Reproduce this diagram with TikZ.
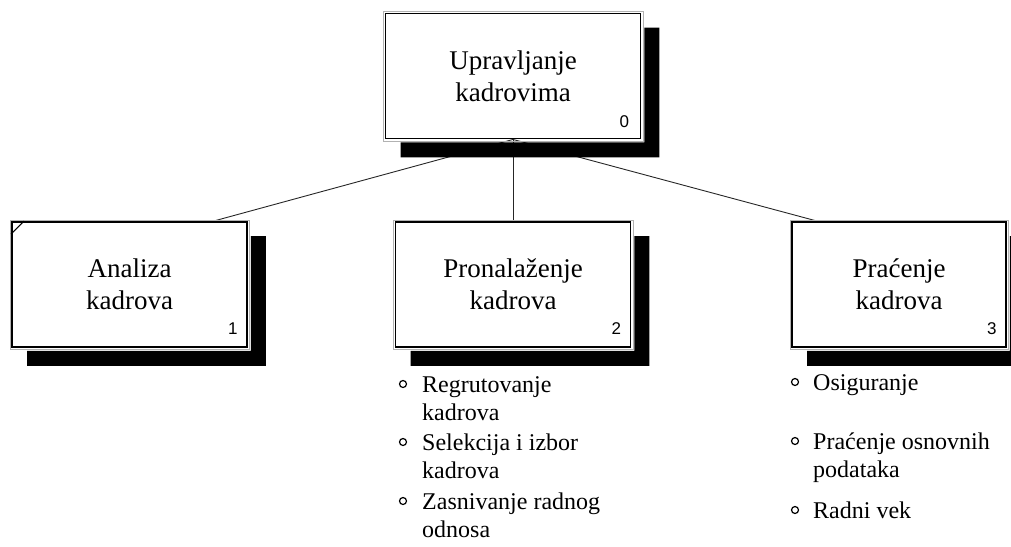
\documentclass[tikz,border=0pt]{standalone}
\usepackage{fontspec}
\setmainfont{Liberation Serif}
\newfontfamily\numfont{Liberation Sans}
\usetikzlibrary{calc,backgrounds}

% L-shaped drop shadow behind a box, leaving a thin white gap
\newcommand\dropshadow[1]{%
  \fill[black] ($(#1.north east)+(3,15)$) -- ($(#1.north east)+(18,15)$)
    -- ($(#1.south east)+(18,18)$) -- ($(#1.south west)+(16,18)$)
    -- ($(#1.south west)+(16,3)$) -- ($(#1.south east)+(3,3)$) -- cycle;
  \draw[black!30, line width=0.5pt] ($(#1.north west)+(-1.3,-1.3)$) rectangle ($(#1.south east)+(1.3,1.3)$);}

\begin{document}
\begin{tikzpicture}[x=1pt, y=-1pt,
  box/.style={draw=black, line width=1.9pt, fill=white, minimum height=125pt,
    inner sep=0pt, align=center, font=\fontsize{27}{32}\selectfont},
  link/.style={draw=black!85, line width=0.9pt},
  num/.style={font=\numfont\fontsize{17}{17}\selectfont, inner sep=0pt},
  bullet/.style={circle, draw=black, line width=1.2pt, minimum size=7pt, inner sep=0pt},
  item/.style={anchor=base west, inner sep=0pt, font=\fontsize{24}{28.5}\selectfont}]

\useasboundingbox (0,0) rectangle (1011,546);
\clip (0,0) rectangle (1011,546);

% boxes
\node[box, minimum width=255pt] (t)  at (513,76)  {Upravljanje\\kadrovima};
\node[box, minimum width=235pt] (b1) at (129.5,284.5) {Analiza\\kadrova};
\node[box, minimum width=235pt] (b2) at (513,284.5)  {Pronalaženje\\kadrova};
\node[box, minimum width=214pt] (b3) at (899,284.5)  {Praćenje\\kadrova};

% box numbers
\node[num] (n0) at ($(t.south east)+(-17,-18)$)  {0};
\node[num] (n1) at ($(b1.south east)+(-15,-19)$) {1};
\node[num] (n2) at ($(b2.south east)+(-15,-19)$) {2};
\node[num] (n3) at ($(b3.south east)+(-15,-19)$) {3};

% corner mark on the first box
\draw[line width=1.2pt] ($(b1.north west)+(0,13)$) -- ($(b1.north west)+(13,0)$);

% connectors and shadows go underneath the boxes
\begin{pgfonlayer}{background}
  \draw[link] (t.south) -- ($(b1.north west)!0.855!(b1.north east)$);
  \draw[link] (t.south) -- (b2.north);
  \draw[link] (t.south) -- ($(b3.north west)!0.12!(b3.north east)$);
  \dropshadow{t}
  \dropshadow{b1}
  \dropshadow{b2}
  \dropshadow{b3}
\end{pgfonlayer}

% activities under "Pronalaženje kadrova"
\node[bullet] (p1) at (403,384) {};
\node[item] (q1) at (422,392) {\begin{tabular}[t]{@{}l@{}}Regrutovanje\\kadrova\end{tabular}};
\node[bullet] (p2) at (403,442) {};
\node[item] (q2) at (422,450) {\begin{tabular}[t]{@{}l@{}}Selekcija i izbor\\kadrova\end{tabular}};
\node[bullet] (p3) at (403,501) {};
\node[item] (q3) at (422,509) {\begin{tabular}[t]{@{}l@{}}Zasnivanje radnog\\odnosa\end{tabular}};

% activities under "Praćenje kadrova"
\node[bullet] (r1) at (795,382) {};
\node[item] (s1) at (813,390) {Osiguranje};
\node[bullet] (r2) at (795,441) {};
\node[item] (s2) at (813,449) {\begin{tabular}[t]{@{}l@{}}Praćenje osnovnih\\podataka\end{tabular}};
\node[bullet] (r3) at (795,510) {};
\node[item] (s3) at (813,518) {Radni vek};
\end{tikzpicture}
\end{document}
